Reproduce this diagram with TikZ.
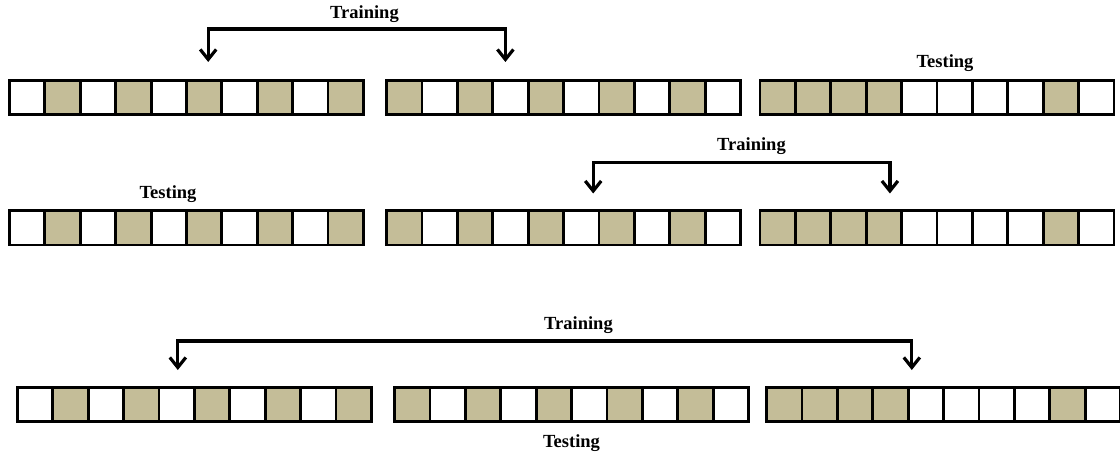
\documentclass[tikz,border=0pt]{standalone}
\usepackage{fontspec}
\setmainfont{Liberation Serif}
\usetikzlibrary{matrix,arrows.meta}

\definecolor{sand}{RGB}{196,189,152}

\tikzset{
	fold/.style={matrix of nodes, nodes in empty cells, column sep=-2.8pt, inner sep=0pt,
		nodes={draw, line width=2.8pt, minimum width=35.4pt, minimum height=34.2pt, inner sep=0pt}},
	hit/.style={fill=sand},
	span/.style={line width=3.2pt, {Straight Barb[length=10pt,width=16pt]}-{Straight Barb[length=10pt,width=16pt]}},
	lbl/.style={font=\fontsize{18.5}{21}\selectfont\bfseries}
}

\begin{document}
\begin{tikzpicture}[x=1pt,y=-1pt]
		\useasboundingbox (0,0) rectangle (1120,457);
		% first split
		\matrix (r1a) [fold] at (186.5,97.5)
		{
			& |[hit]| & & |[hit]| & & |[hit]| & & |[hit]| & & |[hit]| \\
		};
		\matrix (r1b) [fold] at (563.5,97.5)
		{
			|[hit]| & & |[hit]| & & |[hit]| & & |[hit]| & & |[hit]| & \\
		};
		\matrix (r1c) [fold] at (937,97.5)
		{
			|[hit]| & |[hit]| & |[hit]| & |[hit]| & & & & & |[hit]| & \\
		};
		% second split
		\matrix (r2a) [fold] at (186.5,228)
		{
			& |[hit]| & & |[hit]| & & |[hit]| & & |[hit]| & & |[hit]| \\
		};
		\matrix (r2b) [fold] at (563.5,228)
		{
			|[hit]| & & |[hit]| & & |[hit]| & & |[hit]| & & |[hit]| & \\
		};
		\matrix (r2c) [fold] at (937,228)
		{
			|[hit]| & |[hit]| & |[hit]| & |[hit]| & & & & & |[hit]| & \\
		};
		% third split
		\matrix (r3a) [fold] at (194.5,404.5)
		{
			& |[hit]| & & |[hit]| & & |[hit]| & & |[hit]| & & |[hit]| \\
		};
		\matrix (r3b) [fold] at (571.5,404.5)
		{
			|[hit]| & & |[hit]| & & |[hit]| & & |[hit]| & & |[hit]| & \\
		};
		\matrix (r3c) [fold] at (943.5,404.5)
		{
			|[hit]| & |[hit]| & |[hit]| & |[hit]| & & & & & |[hit]| & \\
		};

		\node[lbl] (train1) at (364.5,14) {Training};
		\node[lbl] (test1) at (945,63) {Testing};
		\node[lbl] (train2) at (751.5,146) {Training};
		\node[lbl] (test2) at (168,194) {Testing};
		\node[lbl] (train3) at (578.5,325) {Training};
		\node[lbl] (test3) at (571.5,443) {Testing};

		\coordinate (in1) at ([xshift=4pt,yshift=17pt]r1a-1-6.north);
		\coordinate (out1) at ([xshift=-5pt,yshift=17pt]r1b-1-4.north);
		\coordinate (in2) at ([xshift=12pt,yshift=16pt]r2b-1-6.north);
		\coordinate (out2) at ([xshift=6pt,yshift=16pt]r2c-1-4.north);
		\coordinate (in3) at ([xshift=1pt,yshift=16pt]r3a-1-5.north);
		\coordinate (out3) at ([xshift=-14pt,yshift=16pt]r3c-1-5.north);

		\draw[span] (in1) -- ++(0,-33) -| (out1);
		\draw[span] (in2) -- ++(0,-31) -| (out2);
		\draw[span] (in3) -- ++(0,-29) -| (out3);
	\end{tikzpicture}
\end{document}
